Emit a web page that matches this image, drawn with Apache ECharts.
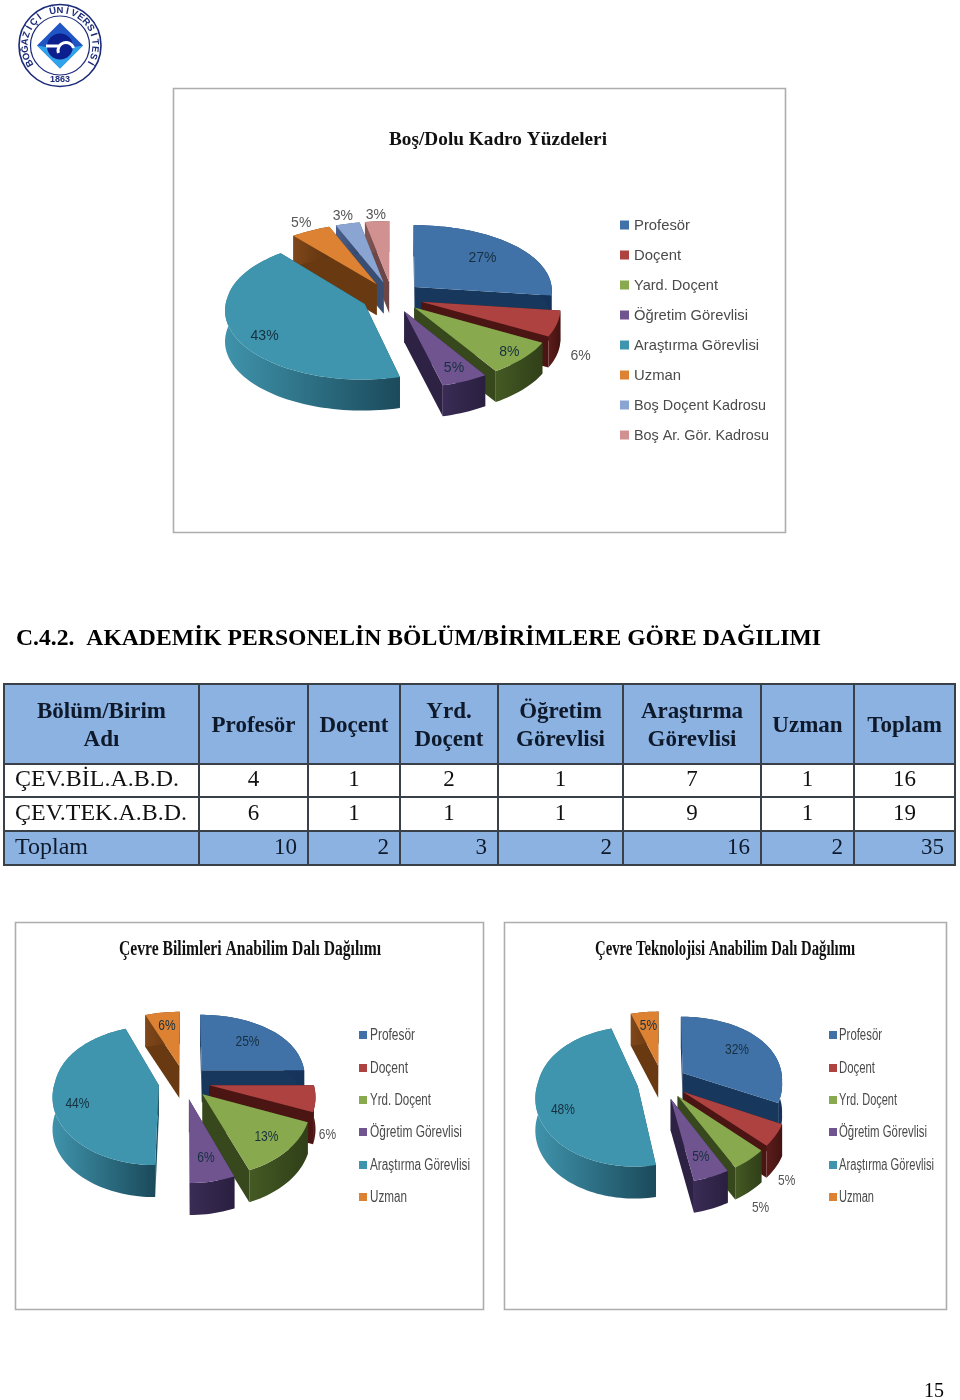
<!DOCTYPE html>
<html><head><meta charset="utf-8">
<style>html,body{margin:0;padding:0;background:#fff}#c{width:960px;height:1400px}</style>
<script src="https://cdn.jsdelivr.net/npm/echarts@6/dist/echarts.min.js"></script>
</head><body><div id="c"></div>
<script>
// ---------- data ----------
const catsTop = ['Profesör','Doçent','Yard. Doçent','Öğretim Görevlisi','Araştırma Görevlisi','Uzman','Boş Doçent Kadrosu','Boş Ar. Gör. Kadrosu'];
const catsDept = ['Profesör','Doçent','Yrd. Doçent','Öğretim Görevlisi','Araştırma Görevlisi','Uzman'];
const valuesTop = [27,6,8,5,43,5,3,3];
const valuesBil = [25,6,13,6,44,6];
const valuesTek = [32,5,5,5,48,5];
const titleTop = 'Boş/Dolu Kadro Yüzdeleri';
const titleBil = 'Çevre Bilimleri Anabilim Dalı Dağılımı';
const titleTek = 'Çevre Teknolojisi Anabilim Dalı Dağılımı';
const heading = 'C.4.2.  AKADEMİK PERSONELİN BÖLÜM/BİRİMLERE GÖRE DAĞILIMI';
const tableHead = [['Bölüm/Birim','Adı'],['Profesör'],['Doçent'],['Yrd.','Doçent'],['Öğretim','Görevlisi'],['Araştırma','Görevlisi'],['Uzman'],['Toplam']];
const rowBil = ['ÇEV.BİL.A.B.D.',4,1,2,1,7,1,16];
const rowTek = ['ÇEV.TEK.A.B.D.',6,1,1,1,9,1,19];
const rowTop = ['Toplam',10,2,3,2,16,2,35];
const pageNo = '15';

// ---------- styles and layout ----------
const topColors = ['#4072a8','#ad4240','#89a94f','#70548f','#3f95ae','#dc8232','#8ba5d3','#d19190'];
const cutColors = ['#17375c','#4a1513','#37481c','#2e2244','#1d4f60','#693a11','#3a4e74','#6e4645'];
const wallLeft  = ['#1d4470','#5c1c1a','#445a24','#3a2c55','#3f93ab','#80471a','#4a6190','#855755'];
const wallRight = ['#15325a','#431311','#303f18','#2a1f40','#1b4a5b','#5f340f','#344669','#624040'];
const FF_SANS = '"Liberation Sans", Arial, sans-serif';
const FF_SERIF = '"Liberation Serif", "Times New Roman", serif';
const ctx = document.createElement('canvas').getContext('2d');
function fitScale(text, font, w){ ctx.font = font; return w / ctx.measureText(text).width; }

const chartGeomTop = {cx:392,cy:297,rx:138,ry:69,k:0.08,d:31,e:0.22,fs:14,sx:1,
  place:[[.68,0],[1.17,28],[.88,0],[.83,0],[.78,7],[1.15,0],[1.14,0],[1.11,0]],
  outside:[0,1,0,0,0,1,1,1]};
const chartGeomBil = {cx:184,cy:1082,rx:104,ry:69,k:0.145,d:32,e:0.245,fs:15,sx:.8,
  place:[[.67,0],[1.11,35],[.77,0],[.74,0],[.77,8],[.71,0]],
  outside:[0,1,0,0,0,0]};
const chartGeomTek = {cx:662,cy:1082,rx:100,ry:69,k:0.145,d:32,e:0.248,fs:15,sx:.8,
  place:[[.68,0],[1.11,40],[1.14,38],[.76,0],[.74,10],[.7,0]],
  outside:[0,1,1,0,0,0]};

function pie3d(name, cats, values, g){
  const total = values.reduce((a,b)=>a+b,0);
  return {
    type:'custom', name, coordinateSystem:'none', silent:true, animation:false,
    data: values.map((v,i)=>({name:cats[i],value:[v]})),
    renderItem(params, api){
      const i = params.dataIndex, val = api.value(0);
      let before = 0; for(let j=0;j<i;j++) before += values[j];
      const a0 = before/total*2*Math.PI, a1 = (before+val)/total*2*Math.PI, am = (a0+a1)/2;
      const ou = g.e*Math.sin(am), ov = g.e*Math.cos(am);
      const P = (r,a,z)=>{ const u=ou+r*Math.sin(a), v=ov+r*Math.cos(a);
        const sx = v<0 ? 1-g.k*v : 1-g.k*.6*v;
        return [g.cx+g.rx*u*sx, g.cy-g.ry*v*(1-g.k*v)+z]; };
      const arcT=[], arcB=[]; const n=Math.max(4,Math.ceil((a1-a0)/(Math.PI/90)));
      for(let t=0;t<=n;t++){ const a=a0+(a1-a0)*t/n; arcT.push(P(1,a,0)); arcB.push(P(1,a,g.d)); }
      const tipT=P(0,0,0), tipB=P(0,0,g.d);
      const base = 100+Math.round((1-Math.cos(am))*100)*3;
      const children = [
        {type:'polygon',z2:base,shape:{points:[tipT,arcT[0],arcB[0],tipB]},style:{fill:cutColors[i]}},
        {type:'polygon',z2:base,shape:{points:[tipT,arcT[n],arcB[n],tipB]},style:{fill:cutColors[i]}},
        {type:'polygon',z2:base+1,shape:{points:arcT.concat(arcB.slice().reverse())},
          style:{fill:new echarts.graphic.LinearGradient(0,0,1,0,[{offset:0,color:wallLeft[i]},{offset:1,color:wallRight[i]}])}},
        {type:'polygon',z2:base+2,shape:{points:[tipT].concat(arcT)},style:{fill:topColors[i]}}
      ];
      const pl = g.place[i], lp = P(pl[0],am,pl[1]);
      children.push({type:'text',z2:2000,x:lp[0],y:lp[1],scaleX:g.sx,style:{text:val+'%',align:'center',verticalAlign:'middle',
        fontFamily:FF_SANS,fontSize:g.fs,fill:g.outside[i]?'#555555':'#16303f'}});
      return {type:'group',children};
    }
  };
}

// ---------- page furniture ----------
const gfx = [];
function T(text,x,y,o){ gfx.push({type:'text',x,y:y+1.5,scaleX:o.sx||1,z:o.z||5,style:{text,align:o.align||'left',verticalAlign:'middle',
  fontFamily:o.ff||FF_SERIF,fontSize:o.fs,fontWeight:o.fw||'normal',fill:o.fill||'#000'}}); }
function R(x,y,w,h,fill,stroke,lw){ gfx.push({type:'rect',z:1,shape:{x,y,width:w,height:h},style:{fill:fill||'transparent',stroke:stroke||null,lineWidth:lw||0}}); }

// frames
R(173.5,88.5,612,444,'#fff','#adadad',1.6);
R(15.5,922.5,468,387,'#fff','#adadad',1.6);
R(504.5,922.5,442,387,'#fff','#adadad',1.6);

// chart titles
function fitTitle(text,cx,cy,w,fs){ const f='bold '+fs+'px "Liberation Serif"'; T(text,cx,cy,{fs,fw:'bold',align:'center',sx:fitScale(text,f,w),fill:'#111'}); }
fitTitle(titleTop,498,139,218,19);
fitTitle(titleBil,250,948,262,20);
fitTitle(titleTek,725,948,260,20);

// legends
function legend(cats,sw,tx,ys,size,fs,widths){
  cats.forEach((c,i)=>{
    R(sw,ys[i]-size/2,size,size,topColors[i]);
    const f=fs+'px "Liberation Sans"';
    T(c,tx,ys[i]-.5,{ff:FF_SANS,fs,fill:'#4a4a4a',sx:fitScale(c,f,widths[i])});
  });
}
legend(catsTop,620,634,[225,255,285,315,345,375,405,435],9,15,[56,47,84,114,125,47,132,135]);
legend(catsDept,359,370,[1035,1068,1100,1132,1165,1197],8,16,[45,38,61,92,100,37]);
legend(catsDept,829,839,[1035,1068,1100,1132,1165,1197],8,16,[43,36,58,88,95,35]);

// heading
T(heading,16,638,{fs:23,fw:'bold',sx:fitScale(heading,'bold 23px "Liberation Serif"',805)});

// table
const colX=[4,199,308,400,498,623,761,854,955], rowY=[684,764,797,831,865];
R(colX[0],rowY[0],colX[8]-colX[0],rowY[1]-rowY[0],'#8cb2e1');
R(colX[0],rowY[3],colX[8]-colX[0],rowY[4]-rowY[3],'#8cb2e1');
tableHead.forEach((lines,c)=>{
  const mx=(colX[c]+colX[c+1])/2;
  lines.forEach((t,l)=>{
    const y=lines.length===1?725:711+l*27.5;
    T(t,mx,y,{fs:23,fw:'bold',align:'center',fill:'#0e1a2c',z:6});
  });
});
const firstColW=[164,172];
[rowBil,rowTek].forEach((row,r)=>{
  const y=(rowY[r+1]+rowY[r+2])/2-2;
  row.forEach((v,c)=>{
    if(c===0) T(String(v),15,y,{fs:23,fill:'#111',z:6,sx:fitScale(String(v),'23px "Liberation Serif"',firstColW[r])});
    else T(String(v),(colX[c]+colX[c+1])/2,y,{fs:23,align:'center',fill:'#111',z:6});
  });
});
rowTop.forEach((v,c)=>{
  const y=(rowY[3]+rowY[4])/2-2;
  if(c===0) T(String(v),15,y,{fs:23,fill:'#0e1a2c',z:6,sx:fitScale(String(v),'23px "Liberation Serif"',73)});
  else T(String(v),colX[c+1]-11,y,{fs:23,align:'right',fill:'#0e1a2c',z:6});
});
colX.forEach(x=>gfx.push({type:'line',z:7,shape:{x1:x,y1:rowY[0]-1,x2:x,y2:rowY[4]+1},style:{stroke:'#3a4048',lineWidth:2}}));
rowY.forEach(y=>gfx.push({type:'line',z:7,shape:{x1:colX[0]-1,y1:y,x2:colX[8]+1,y2:y},style:{stroke:'#3a4048',lineWidth:2}}));

// page number
T(pageNo,934,1390,{fs:20,align:'center'});

// logo
const LX=60,LY=45.5,NAVY='#1b2a78';
gfx.push({type:'circle',z:3,shape:{cx:LX,cy:LY,r:41},style:{fill:'#fff',stroke:NAVY,lineWidth:1.6}});
gfx.push({type:'circle',z:3,shape:{cx:LX,cy:LY,r:29.5},style:{fill:'#fff',stroke:NAVY,lineWidth:1.2}});
gfx.push({type:'polygon',z:3,shape:{points:[[LX,LY-23],[LX+23,LY],[LX,LY+23],[LX-23,LY]]},style:{fill:'#1f55c4'}});
gfx.push({type:'polygon',z:3,shape:{points:[[LX-23,LY],[LX,LY+23],[LX+23,LY],[LX+12,LY+2],[LX-12,LY+2]]},style:{fill:'#2fa3ea'}});
gfx.push({type:'circle',z:3,shape:{cx:LX,cy:LY+1,r:13},style:{fill:'#0c1f8f'}});
gfx.push({type:'arc',z:3,shape:{cx:LX+6,cy:LY+5,r:8,startAngle:Math.PI*.9,endAngle:Math.PI*1.9},style:{fill:'none',stroke:'#fff',lineWidth:3}});
gfx.push({type:'rect',z:3,shape:{x:LX-14,y:LY-1,width:14,height:3},style:{fill:'#fff'}});
const ring='BOĞAZİÇİ ÜNİVERSİTESİ';
const a0=-120,a1=120;
[...ring].forEach((ch,i)=>{
  const deg=a0+(a1-a0)*i/(ring.length-1), rad=deg*Math.PI/180;
  gfx.push({type:'text',z:4,x:LX+35*Math.sin(rad),y:LY-35*Math.cos(rad),rotation:-rad,
    style:{text:ch,align:'center',verticalAlign:'middle',fontFamily:FF_SANS,fontSize:9.5,fontWeight:'bold',fill:NAVY}});
});
T('1863',LX,78.5,{ff:FF_SANS,fs:9,fw:'bold',align:'center',fill:NAVY,z:4});

// ---------- chart ----------
const chart = echarts.init(document.getElementById('c'),null,{renderer:'canvas'});
chart.setOption({
  animation:false, backgroundColor:'#fff',
  graphic:{elements:gfx},
  series:[
    pie3d(titleTop,catsTop,valuesTop,chartGeomTop),
    pie3d(titleBil,catsDept,valuesBil,chartGeomBil),
    pie3d(titleTek,catsDept,valuesTek,chartGeomTek)
  ]
});
</script></body></html>
